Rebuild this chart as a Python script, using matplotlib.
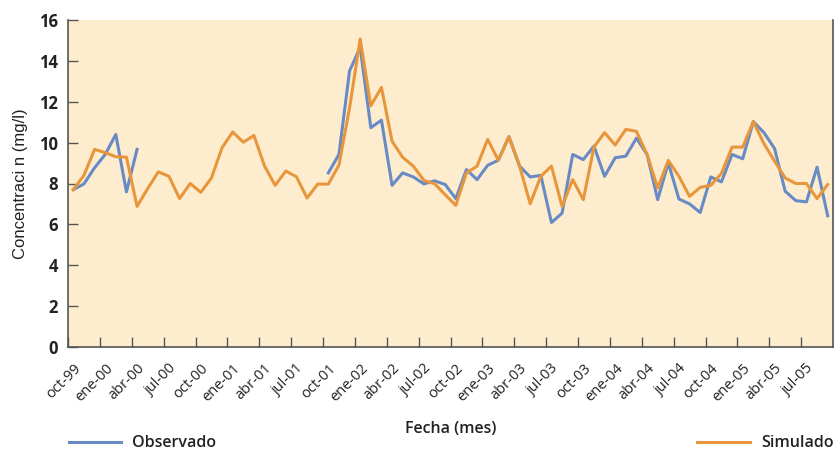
import numpy as np
import matplotlib
matplotlib.use("Agg")
import matplotlib.pyplot as plt

# valeurs mensuelles, oct-99 -> sep-05 (72 mois)
nan = np.nan
observado = [7.70, 7.98, 8.77, 9.42, 10.40, 7.59, 9.67,
             nan, nan, nan, nan, nan, nan, nan, nan, nan, nan, nan, nan, nan, nan, nan, nan, nan,
             8.52, 9.42, 13.51, 14.66, 10.73, 11.10, 7.91, 8.52, 8.32, 7.98, 8.13, 7.95,
             7.26, 8.68, 8.19, 8.89, 9.14, 10.29, 8.85, 8.32, 8.40, 6.09, 6.55, 9.42,
             9.17, 9.83, 8.35, 9.26, 9.34, 10.22, 9.42, 7.21, 9.01, 7.24, 7.00, 6.58,
             8.32, 8.08, 9.42, 9.21, 11.03, 10.49, 9.71, 7.62, 7.16, 7.10, 8.80, 6.42]
simulado = [7.70, 8.40, 9.67, 9.51, 9.31, 9.29, 6.88, 7.75, 8.57, 8.35,
            7.26, 8.00, 7.57, 8.27, 9.75, 10.52, 10.02, 10.35, 8.85, 7.91,
            8.61, 8.33, 7.29, 7.97, 7.97, 8.90, 11.70, 15.07, 11.80, 12.70,
            10.07, 9.28, 8.85, 8.15, 7.99, 7.45, 6.93, 8.52, 8.85, 10.16,
            9.14, 10.29, 8.85, 7.01, 8.35, 8.85, 6.88, 8.19, 7.21, 9.78,
            10.49, 9.88, 10.65, 10.55, 9.42, 7.78, 9.13, 8.35, 7.37, 7.81,
            7.91, 8.49, 9.78, 9.78, 11.03, 9.95, 9.09, 8.27, 8.00, 8.00,
            7.26, 7.95]
etiquetas = ["oct-99", "ene-00", "abr-00", "jul-00", "oct-00", "ene-01", "abr-01",
             "jul-01", "oct-01", "ene-02", "abr-02", "jul-02", "oct-02", "ene-03",
             "abr-03", "jul-03", "oct-03", "ene-04", "abr-04", "jul-04", "oct-04",
             "ene-05", "abr-05", "jul-05"]

AZUL = "#688bc5"
NARANJA = "#e8963c"
FONDO = "#fdedce"
GRIS = "#555555"
TEXTO = "#222222"

plt.rcParams["font.family"] = ["Open Sans", "DejaVu Sans"]

x = np.arange(len(simulado))
fig = plt.figure(figsize=(8.35, 4.53), dpi=100)
ax = fig.add_axes([68 / 835, 106 / 453, 765 / 835, 327 / 453])
ax.set_facecolor(FONDO)

l_obs, = ax.plot(x, observado, color=AZUL, lw=2.2, label="Observado")
l_sim, = ax.plot(x, simulado, color=NARANJA, lw=2.2, label="Simulado")

ax.set_xlim(-0.5, len(x) - 0.5)
ax.set_ylim(0, 16)
ax.set_yticks(np.arange(0, 17, 2))
ax.tick_params(axis="y", direction="in", length=7, width=1, color=GRIS,
               labelsize=12, labelcolor=TEXTO, pad=7)
for t in ax.get_yticklabels():
    t.set_fontweight("bold")

# marques entre catégories, étiquettes au centre
pos_lab = np.arange(0, len(x), 3)
ax.set_xticks(pos_lab - 0.5)
ax.set_xticklabels([])
ax.tick_params(axis="x", which="major", direction="in", length=7, width=1, color=GRIS)
ax.set_xticks(pos_lab, minor=True)
ax.set_xticklabels(etiquetas, minor=True, rotation=45, ha="right",
                   rotation_mode="anchor", fontsize=10.5, color=TEXTO)
ax.tick_params(axis="x", which="minor", length=0, pad=10)

for s in ["left", "bottom", "right"]:
    ax.spines[s].set_color(GRIS)
    ax.spines[s].set_linewidth(1.2)
ax.spines["top"].set_visible(False)

ax.set_xlabel("Fecha (mes)", fontsize=11.5, color=TEXTO, fontweight="semibold", labelpad=12)
ax.set_ylabel("Concentraci n (mg/l)", fontsize=12, color=TEXTO,
              family=["Liberation Sans", "DejaVu Sans"], labelpad=8)

leg1 = fig.legend(handles=[l_obs], loc="lower left", bbox_to_anchor=(67 / 835, 0.0),
                  frameon=False, fontsize=11.5, handlelength=3.3, handletextpad=0.7,
                  borderpad=0.1, borderaxespad=0, prop={"weight": "semibold", "size": 11.5})
leg2 = fig.legend(handles=[l_sim], loc="lower right", bbox_to_anchor=(835 / 835, 0.0),
                  frameon=False, fontsize=11.5, handlelength=3.3, handletextpad=0.7,
                  borderpad=0.1, borderaxespad=0, prop={"weight": "semibold", "size": 11.5})
for leg in (leg1, leg2):
    for t in leg.get_texts():
        t.set_color(TEXTO)

fig.savefig("out.png", dpi=100, facecolor="white")
